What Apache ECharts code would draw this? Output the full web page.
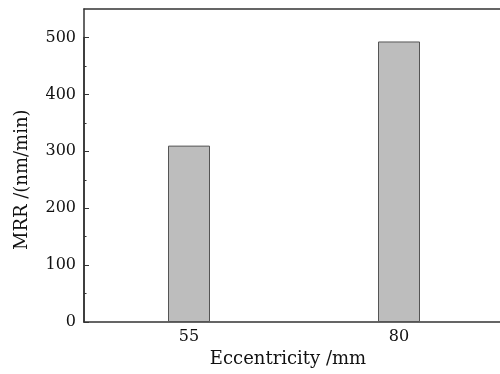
<!DOCTYPE html>
<html>
<head>
<meta charset="utf-8">
<script src="https://cdn.jsdelivr.net/npm/echarts@6/dist/echarts.min.js"></script>
<style>html,body{margin:0;padding:0;background:#fff;}#c{width:500px;height:374px;}</style>
</head>
<body>
<div id="c"></div>
<script>
var categories = ['55', '80'];
var mrrValues = [310, 493];
var yTicks = {min: 0, max: 500, interval: 100};

var font = 'DejaVu Serif';
var axisColor = '#333';
var textColor = '#111';
var chart = echarts.init(document.getElementById('c'), null, {renderer: 'canvas'});
chart.setOption({
  animation: false,
  backgroundColor: '#fff',
  grid: [
    {left: 84, width: 420, top: 37.5, bottom: 52, outerBoundsMode: 'none', containLabel: false},
    {left: 84, width: 420, top: 9, bottom: 52, outerBoundsMode: 'none', containLabel: false}
  ],
  xAxis: [{
    type: 'category',
    gridIndex: 0,
    data: categories,
    boundaryGap: true,
    axisLine: {lineStyle: {color: axisColor, width: 1.5}},
    axisTick: {show: true, inside: true, alignWithLabel: true, length: 5, lineStyle: {color: axisColor}},
    axisLabel: {fontFamily: font, fontSize: 16, color: textColor, margin: 7},
    name: 'Eccentricity /mm',
    nameLocation: 'middle',
    nameGap: 27,
    nameTextStyle: {fontFamily: font, fontSize: 18, color: textColor, padding: [0, 12, 0, 0]}
  }, {
    type: 'category',
    gridIndex: 1,
    data: categories,
    position: 'top',
    axisLine: {show: true, onZero: false, lineStyle: {color: axisColor, width: 1.5}},
    axisTick: {show: false},
    axisLabel: {show: false}
  }],
  yAxis: [{
    type: 'value',
    gridIndex: 0,
    min: yTicks.min,
    max: yTicks.max,
    interval: yTicks.interval,
    axisLine: {show: true, lineStyle: {color: axisColor, width: 1.5}},
    axisTick: {show: true, inside: true, length: 5, lineStyle: {color: axisColor}},
    minorTick: {show: true, splitNumber: 2, length: 2.5, lineStyle: {color: axisColor}},
    splitLine: {show: false},
    axisLabel: {fontFamily: font, fontSize: 16, color: textColor, margin: 8},
    name: 'MRR /(nm/min)',
    nameLocation: 'middle',
    nameGap: 53,
    nameTextStyle: {fontFamily: font, fontSize: 18, color: textColor}
  }, {
    type: 'value',
    gridIndex: 1,
    min: 0,
    max: 550,
    axisLine: {show: true, onZero: false, lineStyle: {color: axisColor, width: 1.5}},
    axisTick: {show: false},
    axisLabel: {show: false},
    splitLine: {show: false}
  }],
  series: [{
    type: 'bar',
    xAxisIndex: 0,
    yAxisIndex: 0,
    data: mrrValues,
    barWidth: 42,
    itemStyle: {color: '#bdbdbd', borderColor: '#555', borderWidth: 1}
  }]
});
</script>
</body>
</html>
